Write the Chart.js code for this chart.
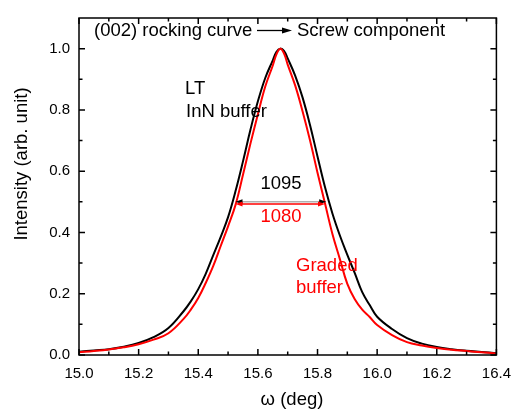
<!DOCTYPE html>
<html>
<head>
<meta charset="utf-8">
<script src="https://cdn.jsdelivr.net/npm/chart.js@4.4.1/dist/chart.umd.min.js"></script>
<style>
  html, body { margin: 0; padding: 0; background: #fff; }
</style>
</head>
<body>
<canvas id="chart" width="521" height="414"></canvas>
<script>
// omega (deg) grid shared by both scans
const omega = [15.00, 15.05, 15.10, 15.15, 15.20, 15.25, 15.30, 15.35, 15.375, 15.40,
  15.425, 15.45, 15.475, 15.50, 15.525, 15.55, 15.575, 15.60, 15.625, 15.65, 15.6625,
  15.675, 15.6875, 15.70, 15.725, 15.75, 15.775, 15.80, 15.825, 15.85, 15.875, 15.90,
  15.925, 15.95, 15.975, 16.00, 16.05, 16.10, 16.15, 16.20, 16.25, 16.30, 16.35, 16.40];

// normalised intensity, LT InN buffer
const ltBuffer = [0.011, 0.015, 0.019, 0.027, 0.039, 0.058, 0.088, 0.142, 0.175, 0.215,
  0.265, 0.325, 0.385, 0.450, 0.535, 0.632, 0.735, 0.828, 0.905, 0.962, 0.990,
  1.000, 0.993, 0.968, 0.912, 0.840, 0.750, 0.648, 0.548, 0.462, 0.390, 0.327,
  0.267, 0.205, 0.163, 0.125, 0.085, 0.055, 0.037, 0.026, 0.019, 0.014, 0.010, 0.006];

// normalised intensity, graded buffer
const gradedBuffer = [0.009, 0.013, 0.018, 0.025, 0.035, 0.050, 0.071, 0.117, 0.148, 0.186,
  0.235, 0.290, 0.355, 0.420, 0.490, 0.588, 0.690, 0.786, 0.877, 0.945, 0.982,
  1.000, 0.985, 0.948, 0.880, 0.795, 0.700, 0.595, 0.495, 0.395, 0.313, 0.232,
  0.182, 0.148, 0.124, 0.098, 0.065, 0.042, 0.031, 0.023, 0.017, 0.013, 0.009, 0.005];

const xTicks = [15.0, 15.2, 15.4, 15.6, 15.8, 16.0, 16.2, 16.4];
const xMinor = [15.1, 15.3, 15.5, 15.7, 15.9, 16.1, 16.3];
const yTicks = [0.0, 0.2, 0.4, 0.6, 0.8, 1.0];
const yMinor = [0.1, 0.3, 0.5, 0.7, 0.9];

// FWHM in arcsec, peak centre (deg) and the level the arrow sits at
const fwhm = [1095, 1080];
const fwhmCenter = [15.677, 15.675];
const fwhmLevel = [0.5, 0.493];

const FONT = '"Liberation Sans", Arial, sans-serif';

function arrowHead(ctx, x, y, dir, len, half) {
  ctx.beginPath();
  ctx.moveTo(x, y);
  ctx.lineTo(x - dir * len, y - half);
  ctx.lineTo(x - dir * len, y + half);
  ctx.closePath();
  ctx.fill();
}

const decorations = {
  id: 'decorations',
  afterDatasetsDraw(chart) {
    const { ctx, chartArea: a, scales: { x, y } } = chart;
    ctx.save();

    // frame and inward ticks on all four sides
    ctx.strokeStyle = '#000';
    ctx.lineWidth = 1.5;
    ctx.strokeRect(a.left, a.top, a.right - a.left, a.bottom - a.top);
    ctx.beginPath();
    const xt = (vals, len) => vals.forEach(v => {
      const px = x.getPixelForValue(v);
      ctx.moveTo(px, a.bottom); ctx.lineTo(px, a.bottom - len);
      ctx.moveTo(px, a.top); ctx.lineTo(px, a.top + len);
    });
    const yt = (vals, len) => vals.forEach(v => {
      const py = y.getPixelForValue(v);
      ctx.moveTo(a.left, py); ctx.lineTo(a.left + len, py);
      ctx.moveTo(a.right, py); ctx.lineTo(a.right - len, py);
    });
    xt(xTicks, 6); xt(xMinor, 3.5);
    yt(yTicks, 6); yt(yMinor, 3.5);
    ctx.stroke();

    // FWHM arrows
    const shaft = ['#b0b0b0', '#ff0000'];
    const head = ['#000000', '#ff0000'];
    fwhm.forEach((w, i) => {
      const half = w / 3600 / 2;
      const x1 = x.getPixelForValue(fwhmCenter[i] - half);
      const x2 = x.getPixelForValue(fwhmCenter[i] + half);
      const py = y.getPixelForValue(fwhmLevel[i]);
      ctx.strokeStyle = shaft[i];
      ctx.lineWidth = 1.5;
      ctx.beginPath();
      ctx.moveTo(x1 + 4, py); ctx.lineTo(x2 - 4, py);
      ctx.stroke();
      ctx.fillStyle = head[i];
      arrowHead(ctx, x1, py, -1, 7, 2.5);
      arrowHead(ctx, x2, py, 1, 7, 2.5);
    });

    // labels
    ctx.font = '18.5px ' + FONT;
    ctx.textBaseline = 'middle';
    ctx.textAlign = 'left';
    ctx.fillStyle = '#000';
    ctx.fillText('(002) rocking curve', 94, 31);
    ctx.fillText('Screw component', 297, 31);
    ctx.fillText('LT', 185, 89);
    ctx.fillText('InN buffer', 186, 112);

    ctx.strokeStyle = '#000';
    ctx.lineWidth = 1.3;
    ctx.beginPath();
    ctx.moveTo(257, 30.5); ctx.lineTo(284, 30.5);
    ctx.stroke();
    arrowHead(ctx, 292, 30.5, 1, 10, 3);

    ctx.textAlign = 'center';
    ctx.fillText('1095', 281, 184);
    ctx.fillStyle = '#ff0000';
    ctx.fillText('1080', 281, 217);
    ctx.textAlign = 'left';
    ctx.fillText('Graded', 296, 266);
    ctx.fillText('buffer', 296, 288);

    // axis titles
    ctx.fillStyle = '#000';
    ctx.textAlign = 'center';
    ctx.fillText('\u03c9 (deg)', 292, 400);
    ctx.translate(22, 164);
    ctx.rotate(-Math.PI / 2);
    ctx.fillText('Intensity (arb. unit)', 0, 0);

    ctx.restore();
  }
};

new Chart(document.getElementById('chart'), {
  type: 'line',
  data: {
    datasets: [
      {
        label: 'Graded buffer',
        data: omega.map((w, i) => ({ x: w, y: gradedBuffer[i] })),
        borderColor: '#ff0000',
        borderWidth: 2,
        pointRadius: 0,
        tension: 0.4
      },
      {
        label: 'LT InN buffer',
        data: omega.map((w, i) => ({ x: w, y: ltBuffer[i] })),
        borderColor: '#000000',
        borderWidth: 2,
        pointRadius: 0,
        tension: 0.4
      }
    ]
  },
  options: {
    responsive: false,
    animation: false,
    layout: { padding: { left: 0, top: 9, right: 18, bottom: 0 } },
    plugins: { legend: { display: false }, tooltip: { enabled: false } },
    scales: {
      x: {
        type: 'linear',
        min: 15.0,
        max: 16.4,
        grid: { display: false, drawTicks: false },
        border: { display: false },
        afterBuildTicks: s => { s.ticks = xTicks.map(v => ({ value: v })); },
        afterFit: s => { s.height = 59; },
        ticks: {
          padding: 10,
          color: '#000',
          font: { family: FONT, size: 15 },
          callback: v => v.toFixed(1)
        }
      },
      y: {
        min: 0,
        max: 1.1,
        grid: { display: false, drawTicks: false },
        border: { display: false },
        afterBuildTicks: s => { s.ticks = yTicks.map(v => ({ value: v })); },
        afterFit: s => { s.width = 79; },
        ticks: {
          padding: 9,
          color: '#000',
          font: { family: FONT, size: 15 },
          callback: v => v.toFixed(1)
        }
      }
    }
  },
  plugins: [decorations]
});
</script>
</body>
</html>
